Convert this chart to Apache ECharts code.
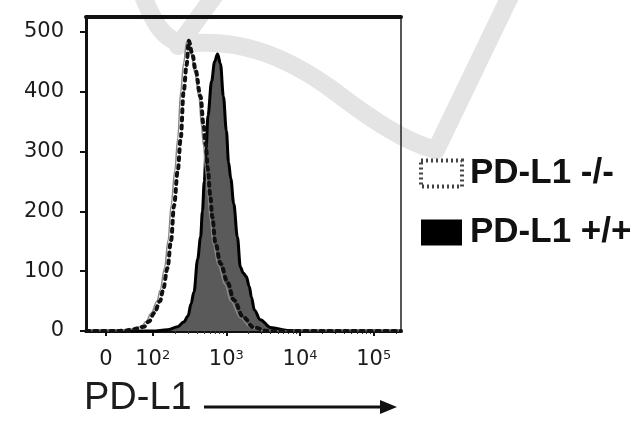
<!DOCTYPE html>
<html>
<head>
<meta charset="utf-8">
<script src="https://cdn.jsdelivr.net/npm/echarts@6.0.0/dist/echarts.min.js"></script>
<style>
  html, body { margin: 0; padding: 0; background: #fff; }
  #chart { width: 632px; height: 423px; }
</style>
</head>
<body>
<div id="chart"></div>
<script>
// x is in display decades: 10^2 -> 2, 10^3 -> 3 ... ("0" sits at 1.365 on the biexponential scale)
const xTickValues = [1.365, 2, 3, 4, 5];
const xTickLabels = ['0', '10^2', '10^3', '10^4', '10^5'];
const yTickValues = [0, 100, 200, 300, 400, 500];

// PD-L1 -/- (dotted)
const koX = [1.10, 1.50, 1.64, 1.74, 1.88, 1.95, 2.02, 2.10, 2.14, 2.20, 2.25, 2.29, 2.34, 2.38, 2.42, 2.46, 2.49,
  2.54, 2.58, 2.65, 2.69, 2.72, 2.75, 2.78, 2.81, 2.85, 2.92, 3.02, 3.10, 3.23, 3.37, 3.56, 5.37];
const koCount = [0, 0, 1, 3, 7, 16, 30, 50, 68, 105, 152, 210, 268, 322, 400, 445, 485,
  462, 437, 392, 345, 312, 270, 228, 190, 148, 113, 80, 52, 23, 6, 0, 0];

// thin grey outline that runs next to the dotted curve
const outlineX = [1.10, 1.48, 1.60, 1.70, 1.84, 1.91, 1.98, 2.06, 2.10, 2.16, 2.21, 2.25, 2.30, 2.34, 2.38, 2.42, 2.46, 2.49,
  2.53, 2.57, 2.63, 2.66, 2.69, 2.72, 2.75, 2.78, 2.82, 2.89, 2.98, 3.06, 3.19, 3.33, 3.52, 5.37];
const outlineCount = [0, 0, 1, 3, 7, 16, 30, 50, 68, 105, 152, 210, 268, 322, 400, 448, 483, 485,
  460, 432, 390, 345, 310, 268, 226, 188, 146, 110, 78, 50, 22, 6, 0, 0];

// PD-L1 +/+ (filled)
const wtX = [1.10, 2.00, 2.20, 2.34, 2.42, 2.48, 2.52, 2.56, 2.61, 2.65, 2.675, 2.70, 2.725, 2.75, 2.80, 2.84, 2.88,
  2.92, 2.96, 3.00, 3.03, 3.06, 3.10, 3.15, 3.19, 3.23, 3.27, 3.31, 3.34, 3.38, 3.46, 3.60, 3.83, 4.00, 5.37];
const wtCount = [0, 0, 2, 7, 15, 25, 45, 65, 120, 157, 200, 250, 305, 360, 418, 450, 463,
  447, 392, 335, 282, 255, 213, 157, 107, 97, 91, 75, 57, 35, 19, 6, 1, 0, 0];

const zip = (xs, ys) => xs.map((x, i) => [x, ys[i]]);

const minorTicks = [];
for (let d = 2; d <= 5; d++) {
  for (let k = 2; k <= 9; k++) {
    const v = d + Math.log10(k);
    if (v < 5.37) minorTicks.push(v);
  }
}

const textColor = '#1c1c1c';
const markColor = '#e4e4e4';
const markStyle = { fill: null, stroke: markColor, lineWidth: 18, lineCap: 'round' };
const myChart = echarts.init(document.getElementById('chart'));

const option = {
  animation: false,
  backgroundColor: '#fff',
  grid: {
    left: 86,
    right: 231,
    top: 17,
    bottom: 92,
    show: true,
    borderColor: '#222',
    borderWidth: 1.5,
  },
  graphic: [
    // faint watermark swoosh behind the plot
    { type: 'bezierCurve', z: -10, shape: { x1: 140, y1: -12, cpx1: 152, cpy1: 20, cpx2: 162, cpy2: 40, x2: 184, y2: 44 }, style: markStyle },
    { type: 'bezierCurve', z: -10, shape: { x1: 184, y1: 44, cpx1: 240, cpy1: 38, cpx2: 285, cpy2: 56, x2: 330, y2: 88 }, style: markStyle },
    { type: 'bezierCurve', z: -10, shape: { x1: 330, y1: 88, cpx1: 372, cpy1: 120, cpx2: 405, cpy2: 142, x2: 436, y2: 150 }, style: markStyle },
    { type: 'line', z: -10, shape: { x1: 436, y1: 150, x2: 514, y2: -12 }, style: markStyle },
    { type: 'line', z: -10, shape: { x1: 220, y1: -12, x2: 178, y2: 46 }, style: markStyle },
    {
      type: 'text',
      left: 84,
      top: 380,
      style: { text: 'PD-L1', fontSize: 38, fontFamily: 'Liberation Sans', fill: textColor },
    },
    {
      type: 'line',
      shape: { x1: 204, y1: 407, x2: 384, y2: 407 },
      style: { stroke: '#111', lineWidth: 3 },
    },
    {
      type: 'polygon',
      shape: { points: [[380, 400], [397, 407], [380, 414]] },
      style: { fill: '#111' },
    },
  ],
  legend: {
    orient: 'vertical',
    left: 414,
    top: 151,
    itemWidth: 41,
    itemHeight: 26,
    itemGap: 24,
    textStyle: { fontSize: 35, fontWeight: 'bold', fontFamily: 'Liberation Sans', color: '#111', padding: [0, 0, 0, 3] },
    data: [
      { name: 'PD-L1 -/-', icon: 'rect', itemStyle: { color: '#fff', borderColor: '#444', borderWidth: 4, borderType: [2, 3] } },
      { name: 'PD-L1 +/+', icon: 'rect', itemStyle: { color: '#000', borderWidth: 0 } },
    ],
  },
  xAxis: [
    {
      type: 'value',
      min: 1.095,
      max: 5.37,
      splitLine: { show: false },
      axisLine: { lineStyle: { color: '#111', width: 3 } },
      axisTick: { customValues: xTickValues, length: 5, lineStyle: { color: '#111', width: 2 } },
      axisLabel: {
        customValues: xTickValues,
        margin: 18,
        fontSize: 21,
        fontFamily: 'DejaVu Sans',
        color: textColor,
        formatter: (value) => {
          let best = 0;
          xTickValues.forEach((v, i) => { if (Math.abs(v - value) < Math.abs(xTickValues[best] - value)) best = i; });
          return xTickLabels[best].replace(/\^(\d)/, '{s|$1}');
        },
        rich: { s: { fontSize: 13, verticalAlign: 'top', padding: [0, 0, 4, 0], fontFamily: 'DejaVu Sans', color: textColor } },
      },
    },
    {
      type: 'value',
      min: 1.095,
      max: 5.37,
      position: 'bottom',
      splitLine: { show: false },
      axisLine: { show: false },
      axisLabel: { show: false },
      axisTick: { customValues: minorTicks, length: 3, lineStyle: { color: '#333', width: 1 } },
    },
    {
      type: 'value',
      min: 1.095,
      max: 5.37,
      position: 'top',
      splitLine: { show: false },
      axisLine: { lineStyle: { color: '#111', width: 4 } },
      axisLabel: { show: false },
      axisTick: { show: false },
    },
  ],
  yAxis: {
    type: 'value',
    min: 0,
    max: 525,
    splitLine: { show: false },
    axisLine: { show: true, lineStyle: { color: '#111', width: 3 } },
    axisTick: { show: true, customValues: yTickValues, length: 6, lineStyle: { color: '#111', width: 2 } },
    axisLabel: {
      customValues: yTickValues,
      margin: 22,
      fontSize: 21,
      fontFamily: 'DejaVu Sans',
      color: textColor,
    },
  },
  series: [
    {
      name: 'PD-L1 +/+',
      type: 'line',
      data: zip(wtX, wtCount),
      showSymbol: false,
      smooth: 0.35,
      smoothMonotone: 'x',
      z: 2,
      lineStyle: { color: '#000', width: 3 },
      itemStyle: { color: '#000' },
      areaStyle: { color: '#5a5a5a', opacity: 1 },
    },
    {
      name: 'outline',
      type: 'line',
      data: zip(outlineX, outlineCount),
      showSymbol: false,
      smooth: 0.35,
      smoothMonotone: 'x',
      z: 3,
      lineStyle: { color: '#8a8a8a', width: 1.5 },
    },
    {
      name: 'PD-L1 -/-',
      type: 'line',
      data: zip(koX, koCount),
      showSymbol: false,
      smooth: 0.35,
      smoothMonotone: 'x',
      z: 4,
      lineStyle: { color: '#111', width: 4, type: [3, 5], cap: 'round' },
      itemStyle: { color: '#111' },
    },
  ],
};

myChart.setOption(option);
</script>
</body>
</html>
